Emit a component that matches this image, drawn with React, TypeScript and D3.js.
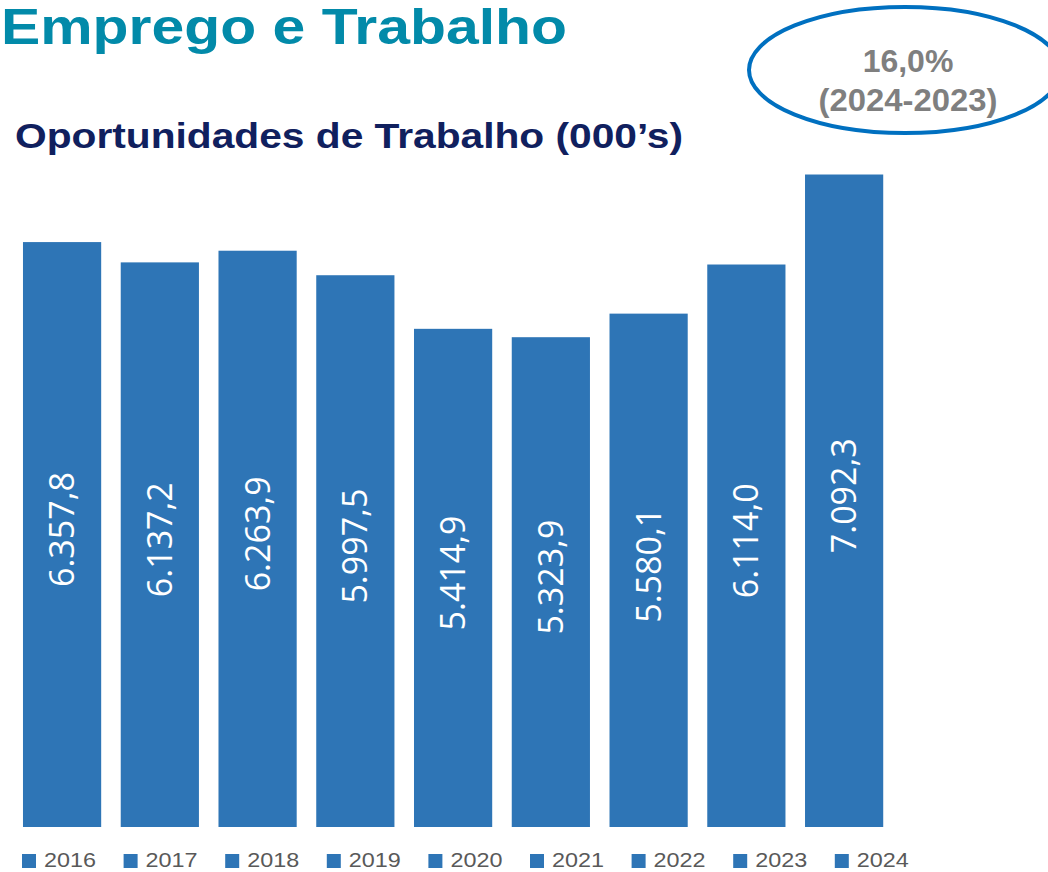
import React from "react";
import * as d3 from "d3";

const years = ["2016", "2017", "2018", "2019", "2020", "2021", "2022", "2023", "2024"];
const values = [6357.8, 6137.2, 6263.9, 5997.5, 5414.9, 5323.9, 5580.1, 6114.0, 7092.3];
const labels = ["6.357,8", "6.137,2", "6.263,9", "5.997,5", "5.414,9", "5.323,9", "5.580,1", "6.114,0", "7.092,3"];

const W = 1048;
const H = 872;
const BAR = "#2E75B6";

export default function App() {
  const x = d3.scaleBand<string>().domain(years).range([13.2, 893]).paddingInner(0.2).paddingOuter(0.1);
  const y = d3.scaleLinear().domain([0, 8000]).range([827, 91]);

  return (
    <svg width={W} height={H} style={{ position: "absolute", left: 0, top: 0, background: "#fff" }}>
      <text x={1} y={44} fontFamily="Liberation Sans, Arial, sans-serif" fontWeight="bold" fontSize={50}
        fill="#028AA9" textLength={566} lengthAdjust="spacingAndGlyphs">Emprego e Trabalho</text>
      <text x={15} y={148} fontFamily="Liberation Sans, Arial, sans-serif" fontWeight="bold" fontSize={35}
        fill="#10205E" textLength={668} lengthAdjust="spacingAndGlyphs">Oportunidades de Trabalho (000’s)</text>

      <ellipse cx={905} cy={70} rx={156} ry={63} fill="none" stroke="#0070C0" strokeWidth={4} />
      <text x={908} y={72} textAnchor="middle" fontFamily="Liberation Sans, Arial, sans-serif" fontWeight="bold"
        fontSize={32} fill="#7F7F7F">16,0%</text>
      <text x={908} y={111} textAnchor="middle" fontFamily="Liberation Sans, Arial, sans-serif" fontWeight="bold"
        fontSize={32} fill="#7F7F7F" textLength={179} lengthAdjust="spacingAndGlyphs">(2024-2023)</text>

      {years.map((yr, i) => {
        const bx = x(yr)!;
        const top = y(values[i]);
        const bottom = y(0);
        const cx = bx + x.bandwidth() / 2;
        const cy = (top + bottom) / 2 - 5;
        return (
          <g key={yr}>
            <rect x={bx} y={top} width={x.bandwidth()} height={bottom - top} fill={BAR} />
            <text transform={`translate(${cx + 12},${cy}) rotate(-90)`} textAnchor="middle"
              fontFamily="Open Sans, sans-serif" fontSize={34} fill="#fff">{labels[i]}</text>
          </g>
        );
      })}

      {years.map((yr, i) => {
        const lx = 22 + i * 101.6;
        return (
          <g key={"l" + yr}>
            <rect x={lx} y={854} width={14} height={14} fill={BAR} />
            <text x={lx + 22} y={867} fontFamily="Liberation Sans, Arial, sans-serif" fontSize={21}
              textLength={52} lengthAdjust="spacingAndGlyphs" fill="#595959">{yr}</text>
          </g>
        );
      })}
    </svg>
  );
}
